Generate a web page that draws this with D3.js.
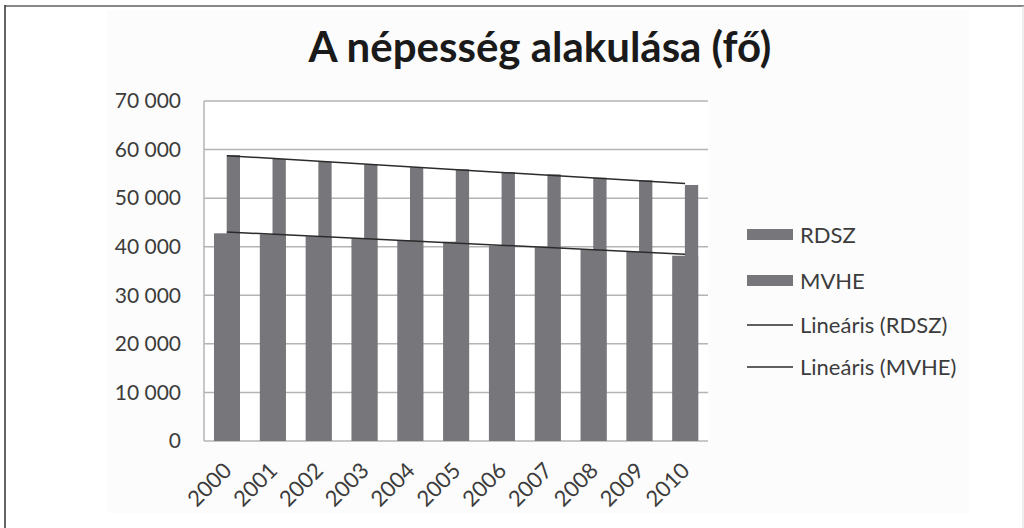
<!DOCTYPE html>
<html>
<head>
<meta charset="utf-8">
<script src="https://cdn.jsdelivr.net/npm/d3@7"></script>
<style>
body { margin: 0; background: #fff; }
text { font-family: Lato, "Open Sans", sans-serif; }
</style>
</head>
<body>
<div id="chart"></div>
<script>
var w = 1024, h = 528;

var years = ["2000", "2001", "2002", "2003", "2004", "2005", "2006", "2007", "2008", "2009", "2010"];
var rdsz = [42760, 42560, 42150, 41730, 41320, 41030, 40210, 39880, 39470, 38980, 38150];
var mvhe = [58880, 58060, 57500, 56970, 56350, 55940, 55380, 54910, 54210, 53680, 52710];
var yTicks = [0, 10000, 20000, 30000, 40000, 50000, 60000, 70000];
var legendNames = ["RDSZ", "MVHE", "Lineáris (RDSZ)", "Lineáris (MVHE)"];

var barColor = "#77777b";
var txtColor = "#3c3c3c";
var pLeft = 204, pRight = 708, pTop = 101, pBottom = 441;

var svg = d3.select("#chart")
	.append("svg")
	.attr("width", w)
	.attr("height", h);

// frame
svg.append("rect").attr("x", 107).attr("y", 10).attr("width", 862).attr("height", 503).attr("fill", "#fcfcfc");
svg.append("line").attr("x1", 5).attr("x2", 1024).attr("y1", 6).attr("y2", 6).attr("stroke", "#888").attr("stroke-width", 2);
svg.append("line").attr("x1", 5).attr("x2", 5).attr("y1", 5).attr("y2", h).attr("stroke", "#333").attr("stroke-width", 1.5);
svg.append("line").attr("x1", 1023).attr("x2", 1023).attr("y1", 6).attr("y2", h).attr("stroke", "#ddd").attr("stroke-width", 1);

svg.append("rect").attr("x", pLeft).attr("y", pTop).attr("width", pRight - pLeft).attr("height", pBottom - pTop).attr("fill", "#fff");

var x = d3.scaleBand().domain(years).range([pLeft, pRight]).padding(0);
var y = d3.scaleLinear().domain([0, 70000]).range([pBottom, pTop]);
var bw = x.bandwidth();

// grid
svg.append("g")
	.selectAll("line")
	.data(yTicks)
	.enter().append("line")
	.attr("x1", pLeft).attr("x2", pRight)
	.attr("y1", function(d) { return y(d); })
	.attr("y2", function(d) { return y(d); })
	.attr("stroke", "#b4b4b4")
	.attr("stroke-width", 1.5);

svg.append("line").attr("x1", pLeft).attr("x2", pLeft).attr("y1", pTop).attr("y2", pBottom)
	.attr("stroke", "#b4b4b4").attr("stroke-width", 1.5);

// y axis labels
var fmt = function(d) { return d === 0 ? "0" : d3.format(",")(d).replace(",", " "); };
var yAxis = d3.axisLeft(y).tickValues(yTicks).tickSize(0).tickPadding(23).tickFormat(fmt);
var ya = svg.append("g").attr("transform", "translate(" + pLeft + ",0)").call(yAxis);
ya.select(".domain").remove();
ya.selectAll("text").attr("font-size", 21).attr("fill", txtColor).style("font-family", "Lato, 'Open Sans', sans-serif");

// x axis labels
svg.append("g")
	.selectAll("text")
	.data(years)
	.enter().append("text")
	.text(function(d) { return d; })
	.attr("font-size", 22)
	.attr("fill", txtColor)
	.attr("text-anchor", "end")
	.attr("transform", function(d) { return "translate(" + (x(d) + bw / 2 + 6) + "," + (pBottom + 31) + ") rotate(-45)"; });

// bars
svg.append("g")
	.selectAll("rect")
	.data(rdsz)
	.enter().append("rect")
	.attr("x", function(d, i) { return x(years[i]) + 10; })
	.attr("y", function(d) { return y(d); })
	.attr("width", 26)
	.attr("height", function(d) { return pBottom - y(d); })
	.attr("fill", barColor);

svg.append("g")
	.selectAll("rect")
	.data(mvhe)
	.enter().append("rect")
	.attr("x", function(d, i) { return x(years[i]) + 22.7; })
	.attr("y", function(d) { return y(d); })
	.attr("width", 13.3)
	.attr("height", function(d) { return pBottom - y(d); })
	.attr("fill", barColor);

// linear trend lines
function trend(vals) {
	var n = vals.length, sx = 0, sy = 0, sxy = 0, sxx = 0;
	vals.forEach(function(v, i) { sx += i; sy += v; sxy += i * v; sxx += i * i; });
	var b = (n * sxy - sx * sy) / (n * sxx - sx * sx);
	var a = (sy - b * sx) / n;
	return [[0, a], [n - 1, a + b * (n - 1)]];
}
var line = d3.line()
	.x(function(d) { return x(years[d[0]]) + bw / 2; })
	.y(function(d) { return y(d[1]); });

[rdsz, mvhe].forEach(function(s) {
	svg.append("path")
		.attr("d", line(trend(s)))
		.attr("fill", "none")
		.attr("stroke", "#2b2b2b")
		.attr("stroke-width", 1.5);
});

// title
svg.append("text")
	.text("A népesség alakulása (fő)")
	.attr("x", 540)
	.attr("y", 62)
	.attr("text-anchor", "middle")
	.attr("font-size", 42)
	.attr("font-weight", "bold")
	.attr("fill", "#1a1a1a");

// legend
var legY = [235, 281, 325, 367];
var leg = svg.append("g");
legendNames.forEach(function(name, i) {
	if (i < 2) {
		leg.append("rect").attr("x", 747).attr("y", legY[i] - 6).attr("width", 46).attr("height", 11).attr("fill", barColor);
	} else {
		leg.append("line").attr("x1", 747).attr("x2", 793).attr("y1", legY[i]).attr("y2", legY[i])
			.attr("stroke", "#2b2b2b").attr("stroke-width", 1.5);
	}
	leg.append("text").text(name)
		.attr("x", 800).attr("y", legY[i] + 8)
		.attr("font-size", 22).attr("fill", txtColor);
});
</script>
</body>
</html>
